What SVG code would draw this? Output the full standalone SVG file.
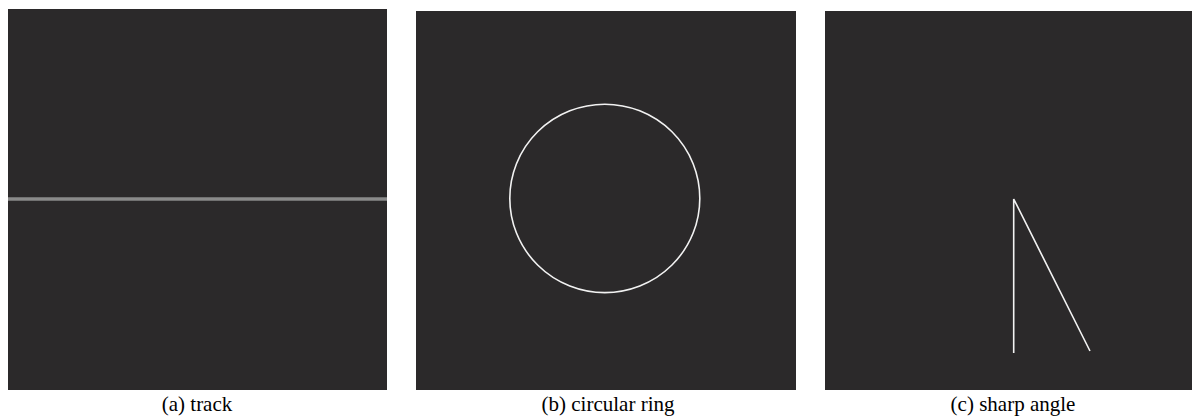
<svg xmlns="http://www.w3.org/2000/svg" width="1194" height="416" viewBox="0 0 1194 416">
<style>
.panel{fill:#2b292a}
.cap{font-family:"Liberation Serif","Times New Roman",serif;font-size:21px;fill:#000;text-anchor:middle}
.w{stroke:#f2f2f2;stroke-width:1.6;fill:none}
</style>
<rect width="1194" height="416" fill="#fff"/>
<g id="panel-a">
<rect class="panel" x="8" y="9" width="379" height="381"/>
<line x1="8" y1="199" x2="387" y2="199" stroke="#8a8a8a" stroke-width="3.5"/>
<text class="cap" x="197" y="411">(a) track</text>
</g>
<g id="panel-b">
<rect class="panel" x="416" y="11" width="380" height="379"/>
<ellipse class="w" cx="604.8" cy="198.4" rx="95" ry="94.2"/>
<text class="cap" x="608" y="411">(b) circular ring</text>
</g>
<g id="panel-c">
<rect class="panel" x="825" y="11" width="367" height="379"/>
<polyline class="w" points="1013.7,353 1013.7,199 1090,351"/>
<text class="cap" x="1013" y="411">(c) sharp angle</text>
</g>
</svg>
